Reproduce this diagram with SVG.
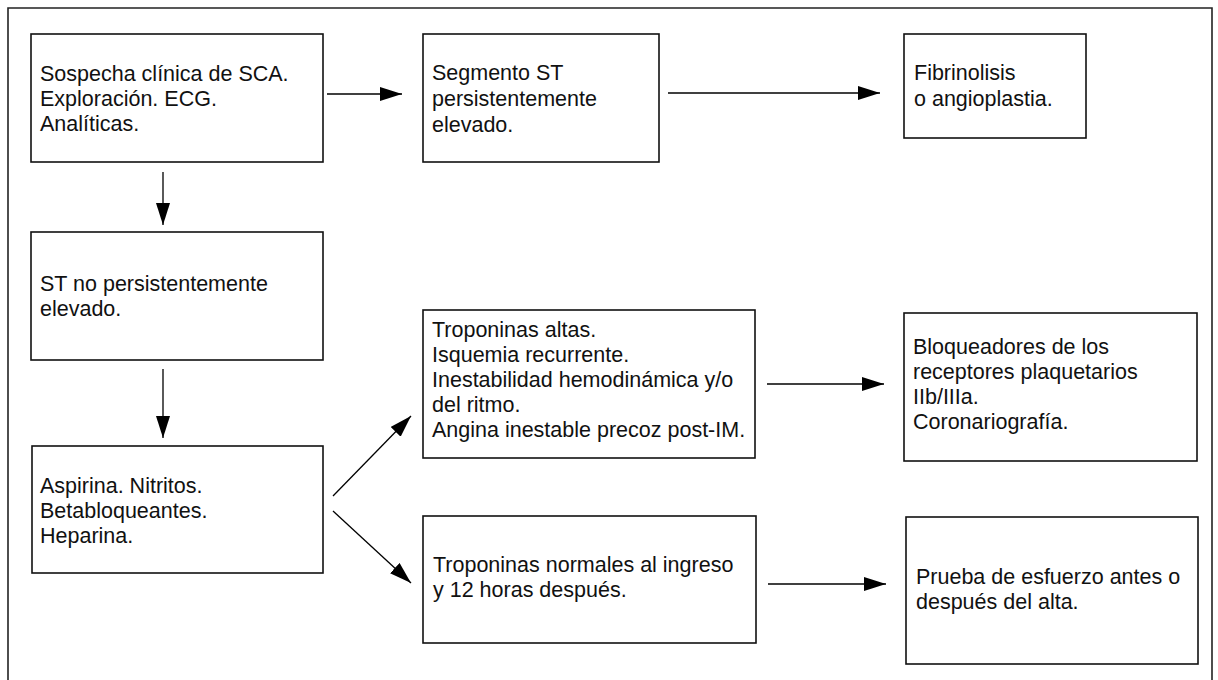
<svg xmlns="http://www.w3.org/2000/svg" width="1218" height="680" viewBox="0 0 1218 680">
<style>
.box{fill:#fff;stroke:#111;stroke-width:1.6}
.t{font-family:"Liberation Sans",Arial,sans-serif;font-size:21.5px;fill:#111}
.c{stroke:#000;stroke-width:1.3;fill:none}
</style>
<defs>
<marker id="ah" markerUnits="userSpaceOnUse" markerWidth="24" markerHeight="16" refX="22" refY="7" orient="auto">
<path d="M0,0 L22,7 L0,14 Z" fill="#000"/>
</marker>
</defs>
<rect width="1218" height="680" fill="#fff"/>
<path d="M8,700 V8 H1212 V700" fill="none" stroke="#222" stroke-width="1.6"/>
<g id="n1"><rect class="box" x="31" y="34" width="292" height="128"/>
<text class="t" x="40" y="81">Sospecha clínica de SCA.</text>
<text class="t" x="40" y="106">Exploración. ECG.</text>
<text class="t" x="40" y="131">Analíticas.</text></g>
<g id="n2"><rect class="box" x="423" y="34" width="236" height="128"/>
<text class="t" x="432" y="80">Segmento ST</text>
<text class="t" x="432" y="106">persistentemente</text>
<text class="t" x="432" y="132">elevado.</text></g>
<g id="n3"><rect class="box" x="904" y="34" width="182" height="104"/>
<text class="t" x="914" y="80">Fibrinolisis</text>
<text class="t" x="914" y="106">o angioplastia.</text></g>
<g id="n4"><rect class="box" x="31" y="232" width="292" height="128"/>
<text class="t" x="40" y="291">ST no persistentemente</text>
<text class="t" x="40" y="316">elevado.</text></g>
<g id="n5"><rect class="box" x="32" y="446" width="291" height="127"/>
<text class="t" x="40" y="493">Aspirina. Nitritos.</text>
<text class="t" x="40" y="518">Betabloqueantes.</text>
<text class="t" x="40" y="543">Heparina.</text></g>
<g id="n6"><rect class="box" x="423" y="310" width="332" height="148"/>
<text class="t" x="432" y="337">Troponinas altas.</text>
<text class="t" x="432" y="362">Isquemia recurrente.</text>
<text class="t" x="432" y="387">Inestabilidad hemodinámica y/o</text>
<text class="t" x="432" y="412">del ritmo.</text>
<text class="t" x="432" y="437">Angina inestable precoz post-IM.</text></g>
<g id="n7"><rect class="box" x="904" y="313" width="293" height="148"/>
<text class="t" x="913" y="354">Bloqueadores de los</text>
<text class="t" x="913" y="379">receptores plaquetarios</text>
<text class="t" x="913" y="404">IIb/IIIa.</text>
<text class="t" x="913" y="429">Coronariografía.</text></g>
<g id="n8"><rect class="box" x="423" y="516" width="333" height="127"/>
<text class="t" x="433" y="572">Troponinas normales al ingreso</text>
<text class="t" x="433" y="597">y 12 horas después.</text></g>
<g id="n9"><rect class="box" x="906" y="517" width="292" height="147"/>
<text class="t" x="916" y="584">Prueba de esfuerzo antes o</text>
<text class="t" x="916" y="609">después del alta.</text></g>
<g id="connectors">
<line class="c" x1="327" y1="94" x2="402" y2="94" marker-end="url(#ah)"/>
<line class="c" x1="668" y1="93" x2="880" y2="93" marker-end="url(#ah)"/>
<line class="c" x1="163" y1="172" x2="163" y2="225" marker-end="url(#ah)"/>
<line class="c" x1="163" y1="369" x2="163" y2="438" marker-end="url(#ah)"/>
<line class="c" x1="333" y1="496" x2="411" y2="416" marker-end="url(#ah)"/>
<line class="c" x1="333" y1="511" x2="411" y2="583" marker-end="url(#ah)"/>
<line class="c" x1="767" y1="384" x2="884" y2="384" marker-end="url(#ah)"/>
<line class="c" x1="768" y1="584" x2="886" y2="584" marker-end="url(#ah)"/>
</g>
</svg>
